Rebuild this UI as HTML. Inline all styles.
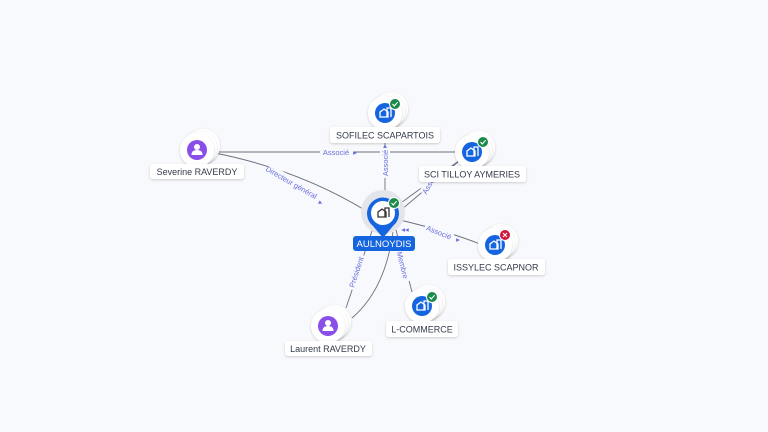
<!DOCTYPE html>
<html><head><meta charset="utf-8"><style>
html,body{margin:0;padding:0;background:#f8f9fc;}
svg{display:block;font-family:"Liberation Sans",sans-serif;}
.lbl{font-size:9px;fill:#333a4a;text-anchor:middle;}
.el{font-size:7.5px;fill:#6a6ee0;text-anchor:middle;}
</style></head><body>
<svg width="768" height="432" viewBox="0 0 768 432">
<defs>
<filter id="sh" x="-30%" y="-30%" width="160%" height="160%"><feDropShadow dx="0" dy="1" stdDeviation="1.2" flood-color="#000" flood-opacity="0.18"/></filter>
<g id="stack">
<circle cx="6" cy="-4" r="17" fill="#fff" filter="url(#sh)"/>
<circle cx="3" cy="-2" r="17" fill="#fff" filter="url(#sh)"/>
<circle cx="0" cy="0" r="17" fill="#fff" filter="url(#sh)"/>
</g>
<g id="bld"><path d="M-5 4 V-1 L-1 -4 L3 -1 V4 Z M2 4 V-5 H6 V4" fill="none" stroke="#fff" stroke-width="1.3"/></g>
<g id="person"><circle cx="0" cy="-3" r="3" fill="#fff"/><path d="M-5.5 5 Q-5.5 0 0 0 Q5.5 0 5.5 5 Z" fill="#fff"/></g>
<g id="ok"><circle r="5.5" fill="#1b8a4a" stroke="#fff" stroke-width="1"/><path d="M-2.5 0 L-0.7 2 L2.6 -1.8" fill="none" stroke="#fff" stroke-width="1.1"/></g>
<g id="ko"><circle r="5.5" fill="#d0163a" stroke="#fff" stroke-width="1"/><path d="M-2 -2 L2 2 M2 -2 L-2 2" stroke="#fff" stroke-width="1.1"/></g>
</defs>

<g fill="none" stroke="#6b7080" stroke-width="0.9">
<path d="M216 152 L460 152"/>
<path d="M215 153 Q300 170 368 212"/>
<path d="M385 196 L385 128"/>
<path d="M398 205 L460 160"/>
<path d="M395 215 L458 162"/>
<path d="M400 220 Q450 232 480 244"/>
<path d="M396 230 L412 292"/>
<path d="M346 308 L373 228"/>
<path d="M352 318 Q385 290 393 232"/>
</g>

<!-- edge labels -->
<g>
<rect x="320" y="146" width="34" height="10" fill="#f8f9fc"/>
<text class="el" x="336" y="155">Associé</text>
<text class="el" x="355" y="155">▸</text>
<g transform="translate(291,183) rotate(30)"><rect x="-28" y="-6" width="56" height="10" fill="#f8f9fc"/><text class="el" x="0" y="2">Directeur général</text></g>
<text class="el" x="321" y="205" transform="rotate(30 321 202)">▸</text>
<g transform="translate(385,163) rotate(-90)"><rect x="-15" y="-5" width="30" height="10" fill="#f8f9fc"/><text class="el" x="0" y="3">Associé</text></g>
<text class="el" x="385" y="148">▴</text>
<g transform="translate(428,186) rotate(-60)"><rect x="-9" y="-5" width="18" height="10" fill="#f8f9fc"/><text class="el" x="0" y="3">Asso</text></g>
<g transform="translate(439,232) rotate(22)"><rect x="-15" y="-5" width="30" height="10" fill="#f8f9fc"/><text class="el" x="0" y="3">Associé</text></g>
<text class="el" x="458" y="242">▸</text>
<g transform="translate(403,265) rotate(76)"><rect x="-17" y="-5" width="34" height="10" fill="#f8f9fc"/><text class="el" x="0" y="3">Membre</text></g>
<g transform="translate(356,272) rotate(-72)"><rect x="-18" y="-5" width="36" height="10" fill="#f8f9fc"/><text class="el" x="0" y="3">Président</text></g>
<text class="el" x="405" y="232">◂◂</text>
</g>

<!-- Severine -->
<use href="#stack" x="197" y="150"/>
<circle cx="197" cy="150" r="10" fill="#8a4fe8"/>
<use href="#person" x="197" y="150"/>
<rect x="150" y="164" width="94" height="15" rx="3" fill="#fff" filter="url(#sh)"/>
<text class="lbl" x="197" y="175">Severine RAVERDY</text>

<!-- SOFILEC -->
<use href="#stack" x="385" y="113"/>
<circle cx="385" cy="113" r="10" fill="#1565e0"/>
<use href="#bld" x="385" y="113"/>
<use href="#ok" x="395" y="104"/>
<rect x="330" y="127" width="110" height="16" rx="3" fill="#fff" filter="url(#sh)"/>
<text class="lbl" x="385" y="138.5">SOFILEC SCAPARTOIS</text>

<!-- SCI TILLOY -->
<use href="#stack" x="472" y="152"/>
<circle cx="472" cy="152" r="10" fill="#1565e0"/>
<use href="#bld" x="472" y="152"/>
<use href="#ok" x="483" y="142"/>
<rect x="419" y="166" width="107" height="16" rx="3" fill="#fff" filter="url(#sh)"/>
<text class="lbl" x="472" y="177.5">SCI TILLOY AYMERIES</text>

<!-- ISSYLEC -->
<use href="#stack" x="495" y="245"/>
<circle cx="495" cy="245" r="10" fill="#1565e0"/>
<use href="#bld" x="495" y="245"/>
<use href="#ko" x="505" y="235"/>
<rect x="448" y="259" width="97" height="16" rx="3" fill="#fff" filter="url(#sh)"/>
<text class="lbl" x="496" y="270.5">ISSYLEC SCAPNOR</text>

<!-- L-COMMERCE -->
<use href="#stack" x="422" y="306"/>
<circle cx="422" cy="306" r="10" fill="#1565e0"/>
<use href="#bld" x="422" y="306"/>
<use href="#ok" x="432" y="297"/>
<rect x="386" y="321" width="72" height="16" rx="3" fill="#fff" filter="url(#sh)"/>
<text class="lbl" x="422" y="332.5">L-COMMERCE</text>

<!-- Laurent -->
<use href="#stack" x="328" y="326"/>
<circle cx="328" cy="326" r="10" fill="#8a4fe8"/>
<use href="#person" x="328" y="326"/>
<rect x="285" y="341" width="87" height="15" rx="3" fill="#fff" filter="url(#sh)"/>
<text class="lbl" x="328" y="352">Laurent RAVERDY</text>

<!-- AULNOYDIS -->
<circle cx="383" cy="212" r="22" fill="#e3e5ea"/>
<path d="M383 238 L373 226 A16 16 0 1 1 393 226 Z" fill="#1565e0"/>
<circle cx="383" cy="213" r="12" fill="#fff"/>
<g transform="translate(383,213)"><path d="M-5 4 V-1 L-1 -4 L3 -1 V4 Z M2 4 V-5 H6 V4" fill="none" stroke="#333" stroke-width="1.3"/></g>
<use href="#ok" x="394" y="203"/>
<rect x="353" y="236" width="62" height="15" rx="3" fill="#1565e0"/>
<text x="384" y="247" font-size="9.5" fill="#fff" text-anchor="middle">AULNOYDIS</text>
</svg>
</body></html>
